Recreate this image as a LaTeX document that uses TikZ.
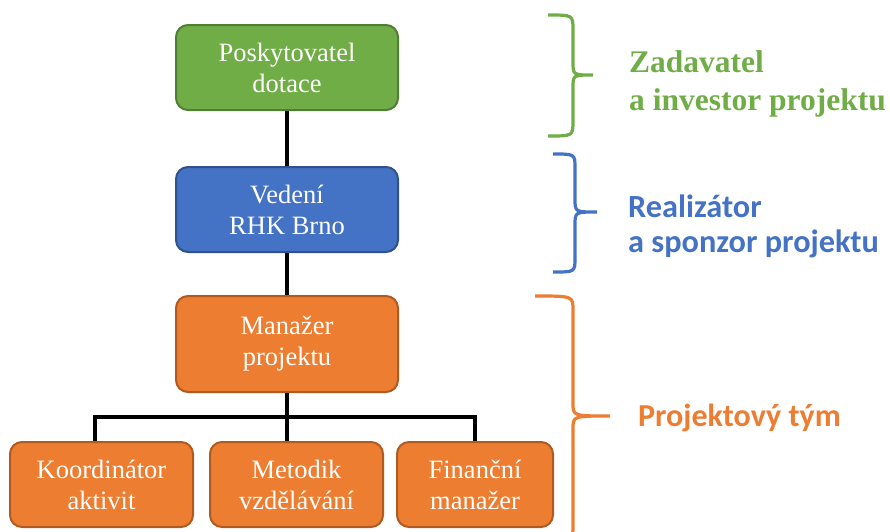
\documentclass[tikz,border=0pt]{standalone}
\usepackage{fontspec}
\usepackage{tikz}
\setmainfont{Liberation Serif}
\newfontfamily\calibri{Carlito}
\definecolor{zelena}{HTML}{70AD47}
\definecolor{zelenaokraj}{HTML}{507E32}
\definecolor{modra}{HTML}{4472C4}
\definecolor{modraokraj}{HTML}{2F528F}
\definecolor{oranzova}{HTML}{ED7D31}
\definecolor{oranzovaokraj}{HTML}{AE5A21}

\begin{document}
\begin{tikzpicture}[x=1pt,y=-1pt]
\tikzstyle{every node}+=[inner sep=0pt]
\tikzstyle{orgbox}=[draw, rounded corners=12pt, line width=2pt, minimum height=85pt, text=white, align=center, font=\fontsize{26.5}{31}\selectfont]
\tikzstyle{spoj}=[black, line width=3.6pt]
\tikzstyle{zavorka}=[line width=3.2pt]
\useasboundingbox (0,0) rectangle (890,531);
\node [orgbox, fill=zelena, draw=zelenaokraj, minimum width=222pt] (dot) at (287,67.5) {Poskytovatel\\dotace};
\node [orgbox, fill=modra, draw=modraokraj, minimum width=222pt] (ved) at (287,209.5) {Vedení\\RHK Brno};
\node [orgbox, fill=oranzova, draw=oranzovaokraj, minimum width=222pt, minimum height=96pt] (man) at (287,344) {Manažer\\projektu};
\node [orgbox, fill=oranzova, draw=oranzovaokraj, minimum width=183pt] (koord) at (101.5,484.5) {Koordinátor\\aktivit};
\node [orgbox, fill=oranzova, draw=oranzovaokraj, minimum width=173pt] (met) at (296.5,484.5) {Metodik\\vzdělávání};
\node [orgbox, fill=oranzova, draw=oranzovaokraj, minimum width=156pt] (fin) at (475,484.5) {Finanční\\manažer};
\draw [spoj] (dot.south) -- (ved.north);
\draw [spoj] (ved.south) -- (man.north);
\draw [spoj] (man.south) -- (man.south |- met.north);
\coordinate (sbernice) at (288,417);
\draw [spoj] ([xshift=-6.5pt]koord.north) |- (sbernice) -| (fin.north);
\draw [zavorka, zelena] (548,15) .. controls (573,15) .. (573,30) -- (573,62) .. controls (573,75) .. (593,75) .. controls (573,75) .. (573,88) -- (573,121) .. controls (573,136) .. (548,136);
\draw [zavorka, modra] (553,154) .. controls (575,154) .. (575,168) -- (575,199) .. controls (575,212) .. (597,212) .. controls (575,212) .. (575,225) -- (575,258) .. controls (575,272) .. (553,272);
\draw [zavorka, oranzova] (535,296) .. controls (573,296) .. (573,310) -- (573,403) .. controls (573,416) .. (610,416) .. controls (573,416) .. (573,429) -- (573,526) .. controls (573,540) .. (535,540);
\node [anchor=west, align=left, text=zelena, font=\fontsize{31.5}{38}\selectfont\bfseries] (zad) at (629,84) {Zadavatel\\a investor projektu};
\node [anchor=west, align=left, text=modra, font=\calibri\fontsize{32.3}{35}\selectfont\bfseries] (real) at (628,226) {Realizátor\\a sponzor projektu};
\node [anchor=west, text=oranzova, font=\calibri\fontsize{32}{38}\selectfont\bfseries] (tym) at (638,418) {Projektový tým};
\end{tikzpicture}
\end{document}
